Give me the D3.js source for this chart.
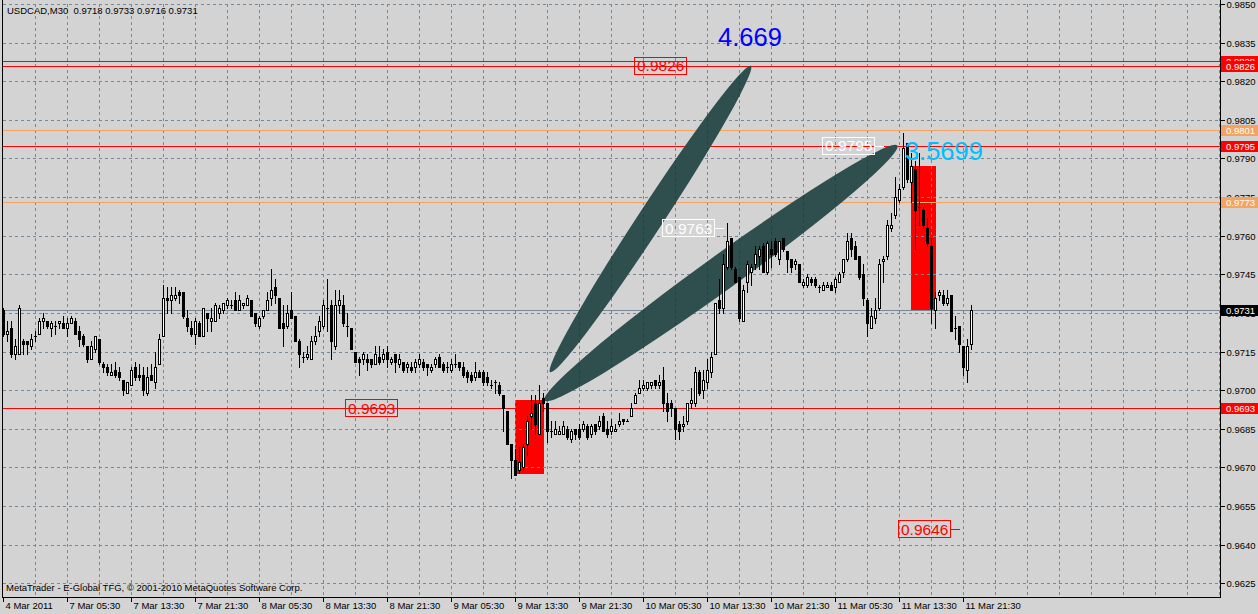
<!DOCTYPE html>
<html><head><meta charset="utf-8">
<script src="https://cdn.jsdelivr.net/npm/d3@7"></script>
<style>
html,body{margin:0;padding:0;background:#d3d3d3;overflow:hidden}
svg{display:block}
text{font-family:"Liberation Sans",Arial,sans-serif}
</style></head><body>
<svg id="c" width="1258" height="614"></svg>
<script>
const symbol = "USDCAD", timeframe = "M30";
const copyright = "MetaTrader - E-Global TFG, \u00a9 2001-2010 MetaQuotes Software Corp.";

const opens = [0.9731,0.9722,0.9724,0.9714,0.9714,0.9719,0.9719,0.9717,0.9721,0.9722,
0.9727,0.9727,0.9724,0.9725,0.9726,0.9726,0.9724,0.9726,0.9727,0.9723,
0.9721,0.9717,0.9712,0.9716,0.9720,0.9710,0.9709,0.9706,0.9708,0.9707,
0.9704,0.9699,0.9702,0.9709,0.9706,0.9706,0.9699,0.9706,0.9703,0.9710,
0.9721,0.9736,0.9735,0.9736,0.9738,0.9738,0.9728,0.9724,0.9722,0.9726,
0.9721,0.9730,0.9727,0.9727,0.9730,0.9731,0.9733,0.9733,0.9735,0.9731,
0.9733,0.9733,0.9735,0.9730,0.9725,0.9729,0.9731,0.9736,0.9740,0.9736,
0.9726,0.9725,0.9731,0.9729,0.9719,0.9713,0.9713,0.9712,0.9719,0.9723,
0.9725,0.9732,0.9733,0.9717,0.9733,0.9733,0.9725,0.9724,0.9715,0.9712,
0.9712,0.9712,0.9712,0.9710,0.9713,0.9712,0.9715,0.9711,0.9714,0.9710,
0.9711,0.9709,0.9709,0.9709,0.9710,0.9711,0.9710,0.9708,0.9710,0.9713,
0.9710,0.9709,0.9708,0.9710,0.9711,0.9709,0.9707,0.9706,0.9705,0.9707,
0.9707,0.9705,0.9702,0.9703,0.9702,0.9698,0.9692,0.9679,0.9673,0.9669,
0.9670,0.9679,0.9690,0.9695,0.9683,0.9697,0.9695,0.9684,0.9683,0.9683,
0.9683,0.9685,0.9681,0.9685,0.9685,0.9685,0.9686,0.9683,0.9687,0.9686,
0.9690,0.9685,0.9684,0.9684,0.9687,0.9689,0.9688,0.9690,0.9695,0.9699,
0.9701,0.9701,0.9702,0.9704,0.9702,0.9704,0.9695,0.9695,0.9693,0.9687,
0.9686,0.9688,0.9695,0.9695,0.9707,0.9700,0.9703,0.9707,0.9714,0.9735,
0.9732,0.9748,0.9759,0.9747,0.9744,0.9727,0.9742,0.9746,0.9749,0.9752,
0.9756,0.9746,0.9755,0.9758,0.9751,0.9759,0.9754,0.9751,0.9749,0.9749,
0.9741,0.9741,0.9743,0.9743,0.9740,0.9739,0.9740,0.9741,0.9740,0.9742,
0.9746,0.9751,0.9759,0.9756,0.9752,0.9745,0.9735,0.9724,0.9728,0.9732,
0.9750,0.9752,0.9763,0.9768,0.9774,0.9779,0.9796,0.9781,0.9786,0.9771,
0.9770,0.9763,0.9756,0.9731,0.9737,0.9737,0.9734,0.9737,0.9724,0.9725,
0.9717,0.9708,0.9718];

const highs = [0.9732,0.9727,0.9727,0.9720,0.9733,0.9720,0.9719,0.9722,0.9723,0.9728,
0.9730,0.9727,0.9727,0.9727,0.9727,0.9729,0.9728,0.9729,0.9728,0.9725,
0.9722,0.9717,0.9719,0.9721,0.9720,0.9711,0.9710,0.9710,0.9711,0.9709,
0.9704,0.9703,0.9709,0.9711,0.9710,0.9709,0.9709,0.9710,0.9715,0.9722,
0.9741,0.9740,0.9740,0.9740,0.9739,0.9738,0.9731,0.9727,0.9728,0.9727,
0.9732,0.9730,0.9732,0.9734,0.9733,0.9734,0.9736,0.9735,0.9738,0.9737,
0.9734,0.9737,0.9735,0.9730,0.9729,0.9731,0.9738,0.9747,0.9743,0.9736,
0.9733,0.9733,0.9738,0.9729,0.9720,0.9715,0.9717,0.9721,0.9725,0.9729,
0.9735,0.9743,0.9735,0.9739,0.9739,0.9737,0.9730,0.9724,0.9715,0.9713,
0.9715,0.9714,0.9712,0.9717,0.9717,0.9716,0.9717,0.9713,0.9714,0.9714,
0.9711,0.9711,0.9711,0.9712,0.9714,0.9712,0.9710,0.9710,0.9713,0.9714,
0.9711,0.9711,0.9712,0.9714,0.9711,0.9711,0.9708,0.9707,0.9711,0.9708,
0.9708,0.9707,0.9704,0.9704,0.9703,0.9698,0.9692,0.9679,0.9677,0.9678,
0.9679,0.9690,0.9698,0.9698,0.9702,0.9699,0.9695,0.9688,0.9688,0.9686,
0.9688,0.9686,0.9685,0.9685,0.9687,0.9688,0.9687,0.9687,0.9687,0.9690,
0.9691,0.9688,0.9689,0.9687,0.9691,0.9689,0.9689,0.9695,0.9699,0.9704,
0.9704,0.9703,0.9703,0.9704,0.9706,0.9709,0.9699,0.9696,0.9693,0.9688,
0.9690,0.9695,0.9701,0.9709,0.9708,0.9708,0.9712,0.9715,0.9734,0.9743,
0.9753,0.9765,0.9759,0.9748,0.9744,0.9741,0.9750,0.9749,0.9756,0.9756,
0.9757,0.9758,0.9758,0.9759,0.9758,0.9759,0.9754,0.9751,0.9751,0.9749,
0.9743,0.9745,0.9744,0.9744,0.9741,0.9742,0.9742,0.9742,0.9744,0.9746,
0.9751,0.9761,0.9761,0.9758,0.9752,0.9749,0.9736,0.9732,0.9736,0.9751,
0.9752,0.9766,0.9769,0.9783,0.9780,0.9800,0.9796,0.9792,0.9789,0.9792,
0.9771,0.9767,0.9759,0.9738,0.9739,0.9739,0.9739,0.9737,0.9729,0.9725,
0.9717,0.9720,0.9733];

const lows = [0.9721,0.9719,0.9713,0.9712,0.9714,0.9714,0.9714,0.9716,0.9719,0.9722,
0.9724,0.9724,0.9721,0.9722,0.9724,0.9724,0.9721,0.9726,0.9722,0.9717,
0.9717,0.9711,0.9712,0.9715,0.9710,0.9707,0.9706,0.9706,0.9705,0.9704,
0.9698,0.9699,0.9702,0.9704,0.9704,0.9698,0.9698,0.9704,0.9701,0.9710,
0.9721,0.9730,0.9730,0.9735,0.9734,0.9728,0.9723,0.9721,0.9718,0.9721,
0.9721,0.9723,0.9723,0.9727,0.9728,0.9730,0.9732,0.9732,0.9731,0.9731,
0.9732,0.9733,0.9729,0.9725,0.9724,0.9728,0.9731,0.9733,0.9734,0.9724,
0.9717,0.9724,0.9728,0.9719,0.9709,0.9711,0.9712,0.9712,0.9718,0.9721,
0.9724,0.9723,0.9712,0.9716,0.9730,0.9725,0.9721,0.9716,0.9711,0.9706,
0.9710,0.9708,0.9709,0.9710,0.9710,0.9711,0.9709,0.9710,0.9707,0.9709,
0.9707,0.9707,0.9707,0.9707,0.9709,0.9708,0.9706,0.9707,0.9709,0.9709,
0.9707,0.9707,0.9707,0.9709,0.9708,0.9705,0.9703,0.9703,0.9704,0.9705,
0.9702,0.9702,0.9701,0.9699,0.9698,0.9684,0.9679,0.9666,0.9667,0.9668,
0.9669,0.9675,0.9685,0.9683,0.9683,0.9692,0.9680,0.9682,0.9683,0.9683,
0.9683,0.9681,0.9680,0.9681,0.9681,0.9684,0.9681,0.9682,0.9683,0.9685,
0.9684,0.9682,0.9683,0.9684,0.9686,0.9687,0.9688,0.9690,0.9695,0.9699,
0.9700,0.9700,0.9701,0.9701,0.9701,0.9692,0.9688,0.9690,0.9681,0.9681,
0.9684,0.9687,0.9693,0.9694,0.9698,0.9697,0.9701,0.9705,0.9714,0.9730,
0.9730,0.9747,0.9747,0.9742,0.9727,0.9727,0.9738,0.9741,0.9747,0.9747,
0.9746,0.9745,0.9748,0.9752,0.9749,0.9754,0.9746,0.9746,0.9747,0.9742,
0.9740,0.9740,0.9741,0.9740,0.9738,0.9739,0.9740,0.9739,0.9738,0.9742,
0.9744,0.9750,0.9752,0.9751,0.9743,0.9733,0.9721,0.9724,0.9726,0.9731,
0.9742,0.9751,0.9762,0.9767,0.9773,0.9778,0.9781,0.9773,0.9755,0.9764,
0.9763,0.9756,0.9726,0.9724,0.9735,0.9733,0.9733,0.9723,0.9720,0.9715,
0.9706,0.9703,0.9716];

const closes = [0.9722,0.9723,0.9714,0.9717,0.9732,0.9718,0.9718,0.9720,0.9721,0.9727,
0.9728,0.9725,0.9726,0.9725,0.9727,0.9724,0.9726,0.9728,0.9722,0.9720,
0.9718,0.9712,0.9717,0.9721,0.9711,0.9709,0.9707,0.9707,0.9706,0.9705,
0.9700,0.9703,0.9708,0.9705,0.9705,0.9700,0.9705,0.9704,0.9709,0.9720,
0.9736,0.9735,0.9737,0.9737,0.9737,0.9729,0.9725,0.9722,0.9727,0.9721,
0.9732,0.9728,0.9728,0.9733,0.9732,0.9734,0.9735,0.9733,0.9731,0.9735,
0.9734,0.9736,0.9729,0.9726,0.9728,0.9731,0.9735,0.9739,0.9737,0.9724,
0.9724,0.9730,0.9728,0.9719,0.9714,0.9713,0.9714,0.9719,0.9721,0.9727,
0.9733,0.9732,0.9719,0.9733,0.9735,0.9726,0.9725,0.9716,0.9711,0.9711,
0.9714,0.9711,0.9710,0.9714,0.9711,0.9714,0.9712,0.9712,0.9711,0.9712,
0.9708,0.9710,0.9708,0.9711,0.9712,0.9709,0.9709,0.9709,0.9712,0.9709,
0.9708,0.9709,0.9710,0.9710,0.9709,0.9706,0.9705,0.9704,0.9707,0.9705,
0.9703,0.9703,0.9702,0.9703,0.9699,0.9693,0.9679,0.9673,0.9667,0.9672,
0.9678,0.9688,0.9691,0.9687,0.9695,0.9695,0.9684,0.9684,0.9685,0.9684,
0.9686,0.9682,0.9684,0.9683,0.9682,0.9687,0.9682,0.9686,0.9684,0.9688,
0.9684,0.9683,0.9686,0.9685,0.9688,0.9688,0.9688,0.9693,0.9698,0.9701,
0.9702,0.9703,0.9703,0.9702,0.9703,0.9695,0.9692,0.9693,0.9685,0.9684,
0.9687,0.9695,0.9696,0.9707,0.9699,0.9704,0.9708,0.9713,0.9734,0.9732,
0.9749,0.9758,0.9748,0.9742,0.9728,0.9739,0.9749,0.9748,0.9753,0.9755,
0.9746,0.9757,0.9753,0.9753,0.9758,0.9755,0.9751,0.9748,0.9750,0.9742,
0.9742,0.9744,0.9742,0.9741,0.9740,0.9741,0.9741,0.9739,0.9743,0.9745,
0.9751,0.9758,0.9755,0.9751,0.9744,0.9736,0.9726,0.9729,0.9731,0.9749,
0.9751,0.9764,0.9764,0.9775,0.9778,0.9794,0.9782,0.9787,0.9770,0.9771,
0.9764,0.9757,0.9732,0.9736,0.9738,0.9734,0.9736,0.9723,0.9724,0.9718,
0.9709,0.9717,0.9731];

const timeTickBars = [0,16,32,48,64,80,96,112,128,144,160,176,192,208,224,240];
const timeTickLabels = ["4 Mar 2011","7 Mar 05:30","7 Mar 13:30","7 Mar 21:30","8 Mar 05:30",
  "8 Mar 13:30","8 Mar 21:30","9 Mar 05:30","9 Mar 13:30","9 Mar 21:30","10 Mar 05:30",
  "10 Mar 13:30","10 Mar 21:30","11 Mar 05:30","11 Mar 13:30","11 Mar 21:30"];
const priceTicks = [0.9850,0.9835,0.9820,0.9805,0.9790,0.9775,0.9760,0.9745,0.9730,0.9715,
  0.9700,0.9685,0.9670,0.9655,0.9640,0.9625];
const priceTickLabels = ["0.9850","0.9835","0.9820","0.9805","0.9790","0.9775","0.9760","0.9745",
  "0.9731","0.9715","0.9700","0.9685","0.9670","0.9655","0.9640","0.9625"];

const hLinePrices = [0.9828,0.9826,0.9801,0.9795,0.9773,0.9693];
const hLineColors = ["#ff0000","#ff0000","#f4a460","#ff0000","#f4a460","#ff0000"];
const bidPrice = 0.9731;

const rectBars = [[128,135],[227,233]];
const rectPrices = [[0.9696,0.9668],[0.9787,0.9731]];

const ellipseBars = [[136.7,186.9],[135.3,223.5]];
const ellipsePrices = [[0.9707,0.9826],[0.9696,0.9795]];
const ellipseScale = [0.068,0.080];

const labelTexts = ["0.9826","0.9795","0.9763","0.9693","0.9646"];
const labelPrices = [0.9826,0.9795,0.9763,0.9693,0.9646];
const labelBars = [157.7,204.6,164.6,85.4,223.7];
const labelColors = ["#ff0000","#ffffff","#ffffff","#ff0000","#ff0000"];

const bigTexts = ["4.669","3.5699"];
const bigTextBars = [178.7,225.4];
const bigTextPrices = [0.98337,0.97896];
const bigTextColors = ["#0000ff","#00bfff"];

// ---------- drawing ----------
const svg = d3.select("#c");
const W = 1258, H = 614, axisX = 1220, axisY = 597;
const x = d3.scaleLinear().domain([0, 1]).range([3.3, 7.3]);
const y = d3.scaleLinear().domain([0.9625, 0.9850]).range([583.3, 4]);
const px = v => Math.round(x(v));
const py = v => Math.round(y(v));
const GRID = "#778899";

svg.append("rect").attr("width", W).attr("height", H).attr("fill", "#d3d3d3");

const plot = svg.append("g").attr("shape-rendering", "crispEdges");

// rectangles (background objects)
rectBars.forEach((b, i) => {
  const x0 = px(b[0]), x1 = px(b[1]);
  const y0 = py(rectPrices[i][0]), y1 = py(rectPrices[i][1]);
  plot.append("rect").attr("x", Math.min(x0, x1)).attr("y", Math.min(y0, y1))
    .attr("width", Math.abs(x1 - x0) + 1).attr("height", Math.abs(y1 - y0) + 1).attr("fill", "#ff0000");
});

// grid
const vBars = d3.range(8, 305, 8);
const grid = plot.append("g");
priceTicks.forEach(p => {
  grid.append("line").attr("x1", 3).attr("x2", axisX).attr("y1", py(p) + 0.5).attr("y2", py(p) + 0.5)
    .attr("stroke", GRID).attr("stroke-dasharray", "3,3");
});
vBars.forEach(b => {
  grid.append("line").attr("x1", px(b) + 0.5).attr("x2", px(b) + 0.5).attr("y1", 4).attr("y2", axisY)
    .attr("stroke", GRID).attr("stroke-dasharray", "3,3");
});

// horizontal lines
hLinePrices.forEach((p, i) => {
  plot.append("line").attr("x1", 3).attr("x2", axisX).attr("y1", py(p) + 0.5).attr("y2", py(p) + 0.5)
    .attr("stroke", hLineColors[i]);
});
plot.append("line").attr("x1", 3).attr("x2", axisX).attr("y1", py(bidPrice) + 0.5).attr("y2", py(bidPrice) + 0.5)
  .attr("stroke", GRID);

// ellipses
const defs = svg.append("defs");
const clip = defs.append("clipPath").attr("id", "ellClip");
const ellG = svg.append("g");
ellipseBars.forEach((b, i) => {
  const x1 = x(b[0]), y1 = y(ellipsePrices[i][0]);
  const x2 = x(b[1]), y2 = y(ellipsePrices[i][1]);
  const cx = (x1 + x2) / 2, cy = (y1 + y2) / 2;
  const len = Math.hypot(x2 - x1, y2 - y1);
  const ang = Math.atan2(y2 - y1, x2 - x1) * 180 / Math.PI;
  const rx = len / 2, ry = len * ellipseScale[i] / 2 * 1.0;
  [ellG, clip].forEach(g => g.append("ellipse").attr("cx", 0).attr("cy", 0).attr("rx", rx).attr("ry", ry)
      .attr("transform", `translate(${cx},${cy}) rotate(${ang})`).attr("fill", "#2f4f4f"));
});
const redGrid = svg.append("g").attr("clip-path", "url(#ellClip)").attr("shape-rendering", "crispEdges");
vBars.forEach(b => {
  redGrid.append("line").attr("x1", px(b) + 0.5).attr("x2", px(b) + 0.5).attr("y1", 4).attr("y2", axisY)
    .attr("stroke", "#7a1c1c").attr("stroke-dasharray", "3,3");
});

// price labels (boxed)
const labG = svg.append("g");
labelTexts.forEach((t, i) => {
  const x0 = Math.round(x(labelBars[i])), yc = y(labelPrices[i]);
  const g = labG.append("g");
  const txt = g.append("text").attr("x", x0 + 3).attr("y", yc + 5.6).attr("font-size", "15.5px")
    .attr("fill", labelColors[i]).text(t);
  const w = txt.node().getComputedTextLength();
  g.insert("rect", "text").attr("x", x0 + 0.5).attr("y", Math.round(yc) - 8.5).attr("width", Math.round(w) + 5)
    .attr("height", 17).attr("fill", "none").attr("stroke", labelColors[i]).attr("shape-rendering", "crispEdges");
  g.append("line").attr("x1", x0 + Math.round(w) + 5).attr("x2", x0 + Math.round(w) + 15)
    .attr("y1", Math.round(yc) + 0.5).attr("y2", Math.round(yc) + 0.5).attr("stroke", labelColors[i])
    .attr("shape-rendering", "crispEdges");
});

// candles
const candles = svg.append("g").attr("shape-rendering", "crispEdges");
opens.forEach((o, i) => {
  const c = closes[i], h = highs[i], l = lows[i];
  const cx = px(i);
  const yh = py(Math.max(h, o, c)), yl = py(Math.min(l, o, c));
  candles.append("rect").attr("x", cx).attr("y", yh).attr("width", 1).attr("height", yl - yh + 1).attr("fill", "#000");
  const yo = py(o), yc = py(c);
  const top = Math.min(yo, yc), bot = Math.max(yo, yc);
  if (c > o) {
    candles.append("rect").attr("x", cx - 1).attr("y", top).attr("width", 3).attr("height", bot - top + 1).attr("fill", "#000");
    if (bot - top > 1) candles.append("rect").attr("x", cx).attr("y", top + 1).attr("width", 1).attr("height", bot - top - 1).attr("fill", "#fff");
  } else if (c < o) {
    candles.append("rect").attr("x", cx - 1).attr("y", top).attr("width", 3).attr("height", bot - top + 1).attr("fill", "#000");
  } else {
    candles.append("rect").attr("x", cx - 1).attr("y", yo).attr("width", 3).attr("height", 1).attr("fill", "#000");
  }
});

// big texts
bigTexts.forEach((t, i) => {
  svg.append("text").attr("x", x(bigTextBars[i])).attr("y", y(bigTextPrices[i]))
    .attr("font-size", "25.5px").attr("fill", bigTextColors[i]).text(t);
});

// frame
svg.append("line").attr("x1", 2.5).attr("x2", 2.5).attr("y1", 0).attr("y2", axisY + 0.5).attr("stroke", "#000").attr("shape-rendering", "crispEdges");
svg.append("line").attr("x1", 2).attr("x2", axisX + 1).attr("y1", axisY + 0.5).attr("y2", axisY + 0.5).attr("stroke", "#000").attr("shape-rendering", "crispEdges");
svg.append("line").attr("x1", axisX + 0.5).attr("x2", axisX + 0.5).attr("y1", 0).attr("y2", axisY + 1).attr("stroke", "#000").attr("shape-rendering", "crispEdges");

// right axis
const yAxis = d3.axisRight(y).tickValues(priceTicks).tickSize(4).tickPadding(2)
  .tickFormat((d, i) => priceTickLabels[i]);
const ya = svg.append("g").attr("transform", `translate(${axisX + 0.5},0)`).call(yAxis);
ya.select(".domain").remove();
ya.selectAll(".tick").attr("transform", d => `translate(0,${py(d) + 0.5})`);
ya.selectAll(".tick line").attr("stroke", "#000").attr("shape-rendering", "crispEdges");
ya.selectAll(".tick text").attr("font-family", "Liberation Sans, Arial, sans-serif").attr("font-size", "9.5px")
  .attr("fill", "#000").attr("dy", "0.34em");

// bottom axis
const xAxis = d3.axisBottom(x).tickValues(timeTickBars).tickSize(4)
  .tickFormat((d, i) => timeTickLabels[i]);
const xa = svg.append("g").attr("transform", `translate(0,${axisY + 0.5})`).call(xAxis);
xa.select(".domain").remove();
xa.selectAll(".tick").attr("transform", d => `translate(${px(d) + 0.5},0)`);
xa.selectAll(".tick line").attr("stroke", "#000").attr("shape-rendering", "crispEdges");
xa.selectAll(".tick text").attr("font-family", "Liberation Sans, Arial, sans-serif").attr("font-size", "9.5px")
  .attr("fill", "#000").attr("text-anchor", "start").attr("x", 2).attr("y", 11).attr("dy", 0);

// right-axis price boxes
const boxes = svg.append("g");
const boxData = hLinePrices.map((p, i) => ({p, bg: hLineColors[i]})).concat([{p: bidPrice, bg: "#000"}]);
boxData.forEach(d => {
  const yc = py(d.p);
  boxes.append("rect").attr("x", axisX + 1).attr("y", yc - 5).attr("width", W - axisX - 1).attr("height", 11)
    .attr("fill", d.bg).attr("shape-rendering", "crispEdges");
  boxes.append("text").attr("x", axisX + 6).attr("y", yc + 4).attr("font-size", "9.5px").attr("fill", "#fff")
    .text(d3.format(".4f")(d.p));
});

// title & copyright
const last = opens.length - 1;
const f4 = d3.format(".4f");
svg.append("text").attr("x", 7).attr("y", 13.5).attr("font-size", "9.5px").attr("fill", "#000")
  .style("white-space", "pre")
  .text(`${symbol},${timeframe}  ${f4(opens[last])} ${f4(highs[last])} ${f4(lows[last])} ${f4(closes[last])}`);
svg.append("text").attr("x", 6).attr("y", 591).attr("font-size", "9.5px").attr("fill", "#000").text(copyright);
</script>
</body></html>
